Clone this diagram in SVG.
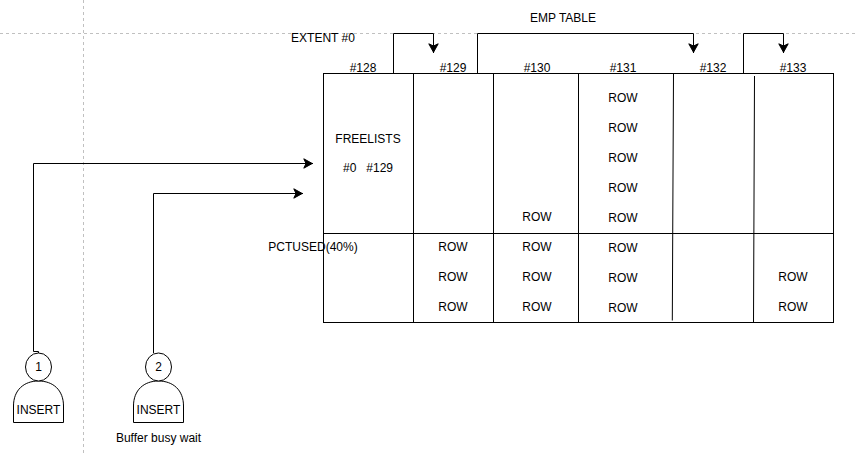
<svg xmlns="http://www.w3.org/2000/svg" width="857" height="454" viewBox="0 0 857 454">
<style>
text{font-family:"Liberation Sans",Arial,sans-serif;font-size:12px;fill:#000;text-anchor:middle;white-space:pre}
.guide{stroke:#c0c0c0;stroke-width:1;stroke-dasharray:3 3;fill:none}
.line{stroke:#000;stroke-width:1;fill:none}
.arrow{stroke:#000;stroke-width:1;fill:none;marker-end:url(#a)}
.shape{stroke:#000;stroke-width:1;fill:#fff}
</style>
<defs>
<marker id="a" markerUnits="userSpaceOnUse" viewBox="0 0 12 12" refX="10" refY="6" markerWidth="12" markerHeight="12" orient="auto">
<path d="M0.800 1.300L9.300 6L0.800 10.700L3 6Z" fill="#000" stroke="#000" stroke-width="1"/>
</marker>
</defs>
<rect width="857" height="454" fill="#fff"/>
<g id="guides">
<path class="guide" d="M0 33.500H857"/>
<path class="guide" d="M83.500 0V454"/>
</g>
<g id="table">
<rect class="line" x="323.500" y="73.500" width="510" height="249"/>
<path class="line" d="M413.500 73.500V322.500M493.500 73.500V322.500M578.500 73.500V322.500M323.500 233.500H833.500"/>
<path class="line" d="M673.500 73.500L672.300 320.500M754.500 76L753.500 322.500"/>
</g>
<g id="connectors">
<path class="arrow" d="M393.500 73.500V33.500H433.500V53"/>
<path class="arrow" d="M477.500 73.500V33.500H693.500V53"/>
<path class="arrow" d="M743.500 73.500V33.500H783.500V53"/>
<path class="arrow" d="M38.500 353V351.500H33.500V163.500H313"/>
<path class="arrow" d="M153.500 353V193.500H303"/>
</g>
<g id="person1">
<path class="shape" d="M13.500 422.500V406C13.500 390 24 381 38.500 381C53 381 63.500 390 63.500 406V422.500Z"/>
<ellipse class="shape" cx="38.500" cy="367" rx="13" ry="14"/>
<text x="38.500" y="371">1</text>
<text x="38.500" y="414">INSERT</text>
</g>
<g id="person2">
<path class="shape" d="M133.500 422.500V406C133.500 390 144 381 158.500 381C173 381 183.500 390 183.500 406V422.500Z"/>
<ellipse class="shape" cx="158.500" cy="367" rx="13" ry="14"/>
<text x="158.500" y="371">2</text>
<text x="158.500" y="414">INSERT</text>
</g>
<g id="labels">
<text x="158.500" y="442">Buffer busy wait</text>
<text x="323" y="42">EXTENT #0</text>
<text x="563" y="22">EMP TABLE</text>
<text x="363" y="72">#128</text>
<text x="453" y="72">#129</text>
<text x="537" y="72">#130</text>
<text x="623" y="72">#131</text>
<text x="713" y="72">#132</text>
<text x="793" y="72">#133</text>
<text x="368" y="143">FREELISTS</text>
<text x="368" y="172">#0   #129</text>
<text x="313" y="251">PCTUSED(40%)</text>
</g>
<g id="rows">
<text x="623" y="102">ROW</text>
<text x="623" y="132">ROW</text>
<text x="623" y="162">ROW</text>
<text x="623" y="192">ROW</text>
<text x="623" y="222">ROW</text>
<text x="623" y="252">ROW</text>
<text x="623" y="282">ROW</text>
<text x="623" y="312">ROW</text>
<text x="537" y="221">ROW</text>
<text x="537" y="251">ROW</text>
<text x="537" y="281">ROW</text>
<text x="537" y="311">ROW</text>
<text x="453" y="251">ROW</text>
<text x="453" y="281">ROW</text>
<text x="453" y="311">ROW</text>
<text x="793" y="281">ROW</text>
<text x="793" y="311">ROW</text>
</g>
</svg>
